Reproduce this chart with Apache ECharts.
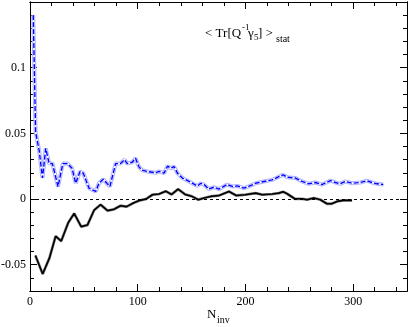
<!DOCTYPE html>
<html>
<head>
<meta charset="utf-8">
<script src="https://cdn.jsdelivr.net/npm/echarts@6/dist/echarts.min.js"></script>
<style>html,body{margin:0;padding:0;background:#fff}#c{width:409px;height:327px}</style>
</head>
<body>
<div id="c"></div>
<script>
// N_inv positions and <Tr[Q^-1 gamma5]>_stat values
const blueX = [3, 4, 5.2, 8.5, 11.6, 14.6, 17.8, 20.8, 26, 30.5, 35, 39, 42.4, 46.5, 49.5, 54.8, 61, 64, 68, 71.8, 74.2, 79.5, 84, 87.8, 90.3, 94.9, 98, 101, 104, 108.8, 116.5, 120, 124.5, 127.6, 130.7, 133.8, 136.9, 141.5, 147.7, 155.4, 158.5, 161.6, 166, 170.8, 175.5, 183, 187.8, 192.4, 198.6, 203, 209.5, 217, 224.8, 231, 235, 238.7, 246.5, 252.6, 258.8, 265, 271, 278.9, 283.5, 288, 292.8, 299, 306.7, 312.8, 317.4, 322, 328];
const blueY = [0.14, 0.10, 0.051, 0.037, 0.016, 0.0386, 0.027, 0.027, 0.0095, 0.027, 0.027, 0.0235, 0.012, 0.021, 0.0197, 0.0083, 0.0058, 0.012, 0.015, 0.0116, 0.0096, 0.027, 0.027, 0.030, 0.027, 0.028, 0.031, 0.0247, 0.022, 0.021, 0.020, 0.021, 0.0197, 0.025, 0.0235, 0.0247, 0.0197, 0.016, 0.0134, 0.010, 0.012, 0.011, 0.0076, 0.009, 0.0076, 0.011, 0.0096, 0.010, 0.0083, 0.0096, 0.012, 0.0134, 0.0146, 0.017, 0.0184, 0.0166, 0.016, 0.0134, 0.0116, 0.0126, 0.011, 0.014, 0.0126, 0.0116, 0.0134, 0.012, 0.0126, 0.014, 0.0126, 0.0116, 0.011];
const blackX = [5, 11.8, 18, 23.8, 29, 35.5, 41, 47.5, 53.3, 59.5, 65.5, 72, 78, 84, 89.6, 96, 102, 107.6, 113.7, 119.8, 126, 131.5, 137.5, 144, 150, 156.3, 161.6, 167.8, 175.5, 184.7, 191.5, 200, 209.5, 215.6, 224.8, 231, 235, 238.7, 245.8, 252.6, 257.2, 263.4, 269.6, 275.7, 280, 285, 291, 299];
const blackY = [-0.043, -0.057, -0.045, -0.0283, -0.032, -0.018, -0.011, -0.021, -0.0198, -0.0085, -0.0043, -0.0088, -0.0078, -0.0051, -0.0058, -0.003, -0.001, 0.0, 0.0033, 0.0038, 0.006, 0.0035, 0.0076, 0.0035, 0.0022, -0.0005, 0.0008, 0.002, 0.0027, 0.0058, 0.0027, 0.0033, 0.0045, 0.0033, 0.0038, 0.0045, 0.0055, 0.004, 0.0002, 0.0002, -0.0005, 0.0008, -0.0005, -0.0036, -0.0036, -0.0018, -0.001, -0.001];
const xTickLabels = [0, 100, 200, 300];
const yTickLabels = [-0.05, 0, 0.05, 0.1];

const blueData = blueX.map((x, i) => [x, blueY[i]]);
const blackData = blackX.map((x, i) => [x, blackY[i]]);

const FONT = '"Liberation Serif", "DejaVu Serif", serif';
const chart = echarts.init(document.getElementById('c'), null, {renderer: 'canvas'});
const gridRect = {left: 30, right: 2, top: 2, bottom: 36, containLabel: false, outerBoundsMode: 'none'};
const axisLine = {show: true, onZero: false, lineStyle: {color: '#000', width: 1}};

function xAx(grid, pos, major, labels) {
  return {
    type: 'value', gridIndex: grid, position: pos, min: 0, max: 350,
    interval: major ? 100 : 20,
    axisLine: axisLine,
    axisTick: major ? {show: true, inside: true, length: 7, lineStyle: {color: '#000'}, customValues: xTickLabels}
                    : {show: true, inside: true, length: 4, lineStyle: {color: '#000'}},
    axisLabel: labels ? {show: true, customValues: xTickLabels, color: '#000', fontFamily: FONT, fontSize: 12, margin: 5} : {show: false},
    splitLine: {show: false}
  };
}
function yAx(grid, pos, major, labels) {
  return {
    type: 'value', gridIndex: grid, position: pos, min: -0.07, max: 0.15,
    interval: 0.01,
    axisLine: axisLine,
    axisTick: major ? {show: true, inside: true, length: 7, lineStyle: {color: '#000'}, customValues: yTickLabels}
                    : {show: true, inside: true, length: 4, lineStyle: {color: '#000'}},
    axisLabel: labels ? {show: true, customValues: yTickLabels, color: '#000', fontFamily: FONT, fontSize: 12, margin: 4} : {show: false},
    splitLine: {show: false}
  };
}

chart.setOption({
  animation: false,
  backgroundColor: '#fff',
  textStyle: {fontFamily: FONT},
  grid: [Object.assign({}, gridRect), Object.assign({}, gridRect)],
  xAxis: [xAx(0, 'bottom', true, true), xAx(0, 'top', true, false), xAx(1, 'bottom', false, false), xAx(1, 'top', false, false)],
  yAxis: [yAx(0, 'left', true, true), yAx(0, 'right', true, false), yAx(1, 'left', false, false), yAx(1, 'right', false, false)],
  series: [
    {type: 'line', xAxisIndex: 0, yAxisIndex: 0, data: blackData, showSymbol: false, silent: true,
     lineStyle: {color: '#888', width: 2.8}, z: 2,
     markLine: {silent: true, symbol: 'none', label: {show: false},
       lineStyle: {color: '#000', type: [3, 3], width: 1}, data: [{yAxis: 0}]}},
    {type: 'line', xAxisIndex: 0, yAxisIndex: 0, data: blackData, showSymbol: false, silent: true,
     lineStyle: {color: '#000', width: 1.6}, z: 3},
    {type: 'line', xAxisIndex: 0, yAxisIndex: 0, data: blueData, showSymbol: false, silent: true,
     lineStyle: {color: '#b0b5ff', width: 4}, z: 4},
    {type: 'line', xAxisIndex: 0, yAxisIndex: 0, data: blueData, showSymbol: false, silent: true,
     lineStyle: {color: '#ffffff', width: 1.8}, z: 5},
    {type: 'line', xAxisIndex: 0, yAxisIndex: 0, data: blueData, showSymbol: false, silent: true,
     lineStyle: {color: '#0000ff', width: 1.4, type: [5, 2]}, z: 6}
  ],
  graphic: [
    {type: 'text', left: 205, top: 27, style: {text: '< Tr[Q', font: '13px ' + FONT, fill: '#000'}},
    {type: 'text', left: 242, top: 23, style: {text: '-1', font: '9px ' + FONT, fill: '#000'}},
    {type: 'text', left: 248, top: 27, style: {text: 'γ', font: '13px ' + FONT, fill: '#000'}},
    {type: 'text', left: 254, top: 33, style: {text: '5', font: '9px ' + FONT, fill: '#000'}},
    {type: 'text', left: 258, top: 27, style: {text: '] >', font: '13px ' + FONT, fill: '#000'}},
    {type: 'text', left: 276, top: 34, style: {text: 'stat', font: '10px ' + FONT, fill: '#000'}},
    {type: 'text', left: 207, top: 308, style: {text: 'N', font: '13px ' + FONT, fill: '#000'}},
    {type: 'text', left: 217, top: 315, style: {text: 'inv', font: '10px ' + FONT, fill: '#000'}}
  ]
});
</script>
</body>
</html>
